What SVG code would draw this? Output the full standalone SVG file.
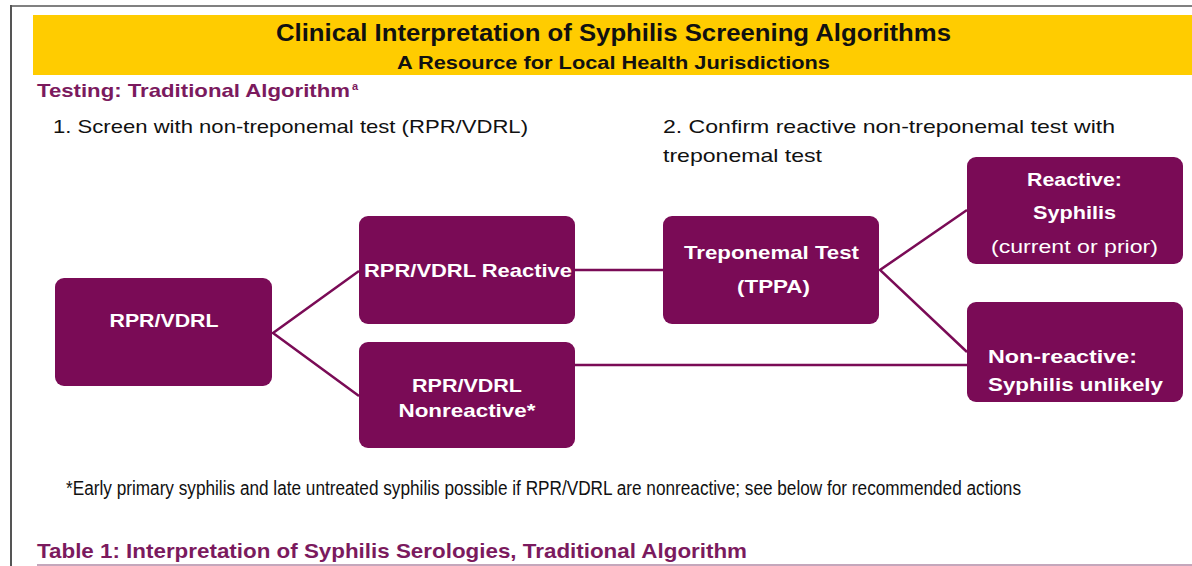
<svg xmlns="http://www.w3.org/2000/svg" width="1192" height="566" viewBox="0 0 1192 566">
  <style>
    text { font-family: "Liberation Sans", Arial, sans-serif; }
    .box { fill: #7A0B56; }
    .bt { fill: #ffffff; font-weight: bold; font-size: 19px; text-anchor: middle; }
    .btr { fill: #ffffff; font-weight: normal; font-size: 18px; text-anchor: middle; }
    .btl { fill: #ffffff; font-weight: bold; font-size: 19px; }
    .head { fill: #7B1A5E; font-weight: bold; font-size: 19px; }
    .step { fill: #111111; font-size: 19px; }
    .conn { stroke: #7A0B56; stroke-width: 2.5; fill: none; }
  </style>
  <rect x="0" y="0" width="1192" height="566" fill="#ffffff"/>
  <!-- page frame -->
  <line x1="10" y1="6" x2="1192" y2="6" stroke="#808080" stroke-width="2"/>
  <line x1="11" y1="5" x2="11" y2="566" stroke="#555555" stroke-width="2"/>
  <!-- title band -->
  <rect x="33" y="15" width="1159" height="60" fill="#FFCC00"/>
  <text x="613.5" y="41" font-size="23" font-weight="bold" fill="#111111" text-anchor="middle" textLength="675" lengthAdjust="spacingAndGlyphs">Clinical Interpretation of Syphilis Screening Algorithms</text>
  <text x="613.5" y="69" font-size="19" font-weight="bold" fill="#111111" text-anchor="middle" textLength="433" lengthAdjust="spacingAndGlyphs">A Resource for Local Health Jurisdictions</text>
  <!-- section heading -->
  <text x="37" y="97" class="head" textLength="313" lengthAdjust="spacingAndGlyphs">Testing: Traditional Algorithm</text>
  <text x="352" y="90" fill="#7B1A5E" font-size="11" font-weight="bold">a</text>
  <text x="53" y="133" class="step" textLength="475" lengthAdjust="spacingAndGlyphs">1. Screen with non-treponemal test (RPR/VDRL)</text>
  <text x="663" y="133" class="step" textLength="452" lengthAdjust="spacingAndGlyphs">2. Confirm reactive non-treponemal test with</text>
  <text x="663" y="162" class="step" textLength="159" lengthAdjust="spacingAndGlyphs">treponemal test</text>

  <!-- connectors -->
  <g id="connectors">
    <polyline class="conn" points="359,271 273,333 359,396"/>
    <line class="conn" x1="575" y1="270" x2="663" y2="270"/>
    <polyline class="conn" points="967,210 880,270 967,352"/>
    <line class="conn" x1="575" y1="365" x2="967" y2="365"/>
  </g>

  <g id="node-rpr">
    <rect class="box" x="55" y="278" width="217" height="108" rx="9"/>
    <text class="bt" x="164" y="327" textLength="109" lengthAdjust="spacingAndGlyphs">RPR/VDRL</text>
  </g>
  <g id="node-reactive">
    <rect class="box" x="359" y="216" width="216" height="108" rx="9"/>
    <text class="bt" x="468" y="277" textLength="208" lengthAdjust="spacingAndGlyphs">RPR/VDRL Reactive</text>
  </g>
  <g id="node-nonreactive">
    <rect class="box" x="359" y="342" width="216" height="106" rx="9"/>
    <text class="bt" x="467" y="392" textLength="110" lengthAdjust="spacingAndGlyphs">RPR/VDRL</text>
    <text class="bt" x="467" y="417" textLength="137" lengthAdjust="spacingAndGlyphs">Nonreactive*</text>
  </g>
  <g id="node-treponemal">
    <rect class="box" x="663" y="216" width="216" height="108" rx="9"/>
    <text class="bt" x="771.5" y="259" textLength="175" lengthAdjust="spacingAndGlyphs">Treponemal Test</text>
    <text class="bt" x="773.5" y="293" textLength="73" lengthAdjust="spacingAndGlyphs">(TPPA)</text>
  </g>
  <g id="node-result-reactive">
    <rect class="box" x="967" y="157" width="216" height="107" rx="9"/>
    <text class="bt" x="1074.5" y="186" textLength="95" lengthAdjust="spacingAndGlyphs">Reactive:</text>
    <text class="bt" x="1074.5" y="219" textLength="83" lengthAdjust="spacingAndGlyphs">Syphilis</text>
    <text class="btr" x="1074.5" y="253" textLength="167" lengthAdjust="spacingAndGlyphs">(current or prior)</text>
  </g>
  <g id="node-result-nonreactive">
    <rect class="box" x="967" y="302" width="216" height="100" rx="9"/>
    <text class="btl" x="988" y="363" textLength="149" lengthAdjust="spacingAndGlyphs">Non-reactive:</text>
    <text class="btl" x="988" y="391" textLength="175" lengthAdjust="spacingAndGlyphs">Syphilis unlikely</text>
  </g>

  <!-- footnote -->
  <text x="66" y="495" font-size="19.5" fill="#111111" textLength="955" lengthAdjust="spacingAndGlyphs">*Early primary syphilis and late untreated syphilis possible if RPR/VDRL are nonreactive; see below for recommended actions</text>
  <text x="37" y="558" class="head" font-size="21" style="font-size:21px" textLength="710" lengthAdjust="spacingAndGlyphs">Table 1: Interpretation of Syphilis Serologies, Traditional Algorithm</text>
  <line x1="37" y1="565" x2="1192" y2="565" stroke="#B08AA6" stroke-width="1.5"/>
</svg>
